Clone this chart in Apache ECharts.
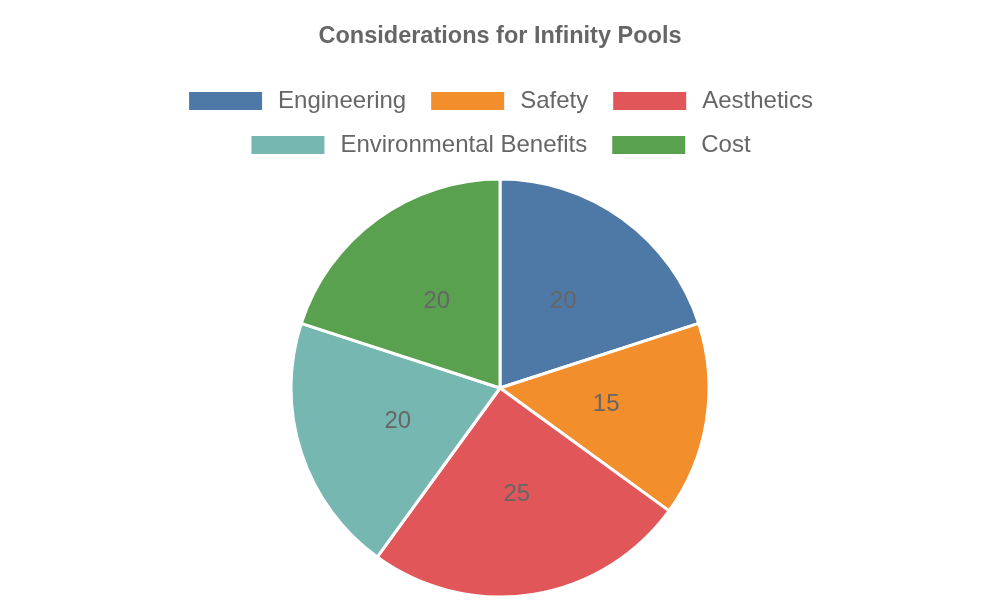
<!DOCTYPE html>
<html>
<head>
<meta charset="utf-8">
<script src="https://cdn.jsdelivr.net/npm/echarts@6/dist/echarts.min.js"></script>
<style>
  html, body { margin: 0; padding: 0; background: #fff; }
  #main { width: 1000px; height: 600px; }
</style>
</head>
<body>
<div id="main"></div>
<script>
  // data
  const categories = ['Engineering', 'Safety', 'Aesthetics', 'Environmental Benefits', 'Cost']
  const values = [20, 15, 25, 20, 20]
  const colors = ['#4e79a7', '#f28e2b', '#e15759', '#76b7b2', '#59a14f']

  const chart = echarts.init(document.getElementById('main'))

  // two legend rows, each centred on its own
  const legendBase = {
    left: 'center',
    icon: 'rect',
    itemWidth: 75,
    itemHeight: 20,
    itemGap: 23,
    textStyle: {
      fontFamily: 'Liberation Sans',
      fontSize: 24,
      color: '#666',
      padding: [0, 0, 0, 10]
    }
  }

  chart.setOption({
    color: colors,
    title: {
      text: 'Considerations for Infinity Pools',
      left: 'center',
      top: 20,
      textStyle: {
        fontFamily: 'Liberation Sans',
        fontSize: 23.5,
        fontWeight: 'bold',
        color: '#666'
      }
    },
    legend: [
      Object.assign({}, legendBase, { top: 84, data: categories.slice(0, 3) }),
      Object.assign({}, legendBase, { top: 128, data: categories.slice(3) })
    ],
    series: [{
      name: 'Considerations',
      type: 'pie',
      center: [500, 388],
      radius: 209,
      startAngle: 90,
      label: {
        show: true,
        position: 'inner',
        formatter: '{c}',
        fontFamily: 'Liberation Sans',
        fontSize: 24,
        color: '#666'
      },
      labelLine: { show: false },
      itemStyle: {
        borderColor: '#fff',
        borderWidth: 3
      },
      emphasis: { scale: false },
      data: categories.map((name, i) => ({ name: name, value: values[i] }))
    }]
  })
</script>
</body>
</html>
